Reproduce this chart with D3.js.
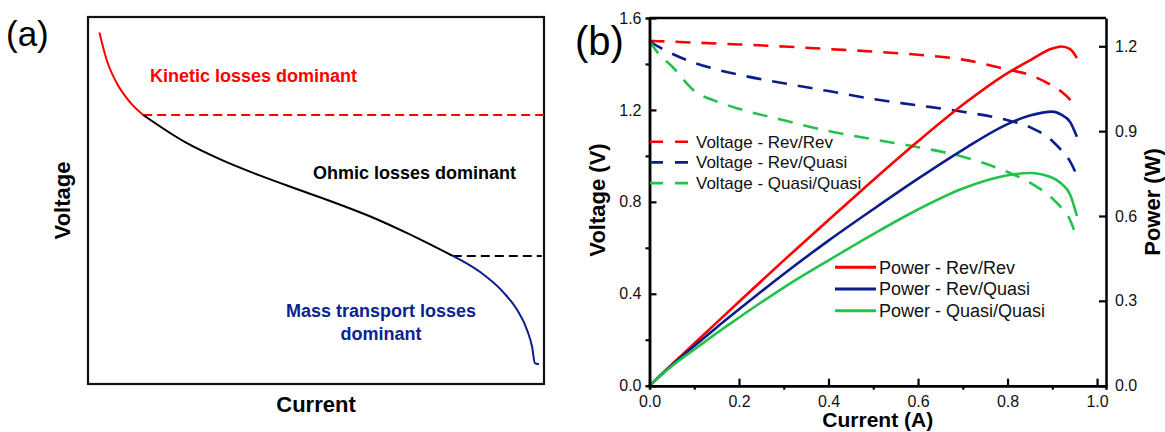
<!DOCTYPE html>
<html>
<head>
<meta charset="utf-8">
<script src="https://cdn.jsdelivr.net/npm/d3@7"></script>
<style>
  body { margin: 0; background: #fff; }
  text { font-family: "Liberation Sans", Arial, sans-serif; }
</style>
</head>
<body>
<div id="chart"></div>
<script>
// ---- panel (a): schematic polarization curve (arbitrary units 0..1)
var kineticI = [0.025, 0.041, 0.063, 0.092, 0.121];
var kineticV = [0.958, 0.883, 0.820, 0.768, 0.733];
var ohmicI = [0.121, 0.213, 0.294, 0.375, 0.456, 0.537, 0.618, 0.700, 0.800];
var ohmicV = [0.733, 0.659, 0.610, 0.569, 0.532, 0.496, 0.457, 0.411, 0.349];
var massI = [0.800, 0.860, 0.910, 0.941, 0.963, 0.974, 0.980, 0.989];
var massV = [0.349, 0.305, 0.251, 0.202, 0.147, 0.101, 0.057, 0.054];
var kineticLimit = [0.121, 1.0, 0.733];   // x0, x1, v
var massLimit = [0.800, 0.995, 0.349];

// ---- panel (b): measured curves
var current = [0, 0.02, 0.05, 0.1, 0.15, 0.2, 0.3, 0.4, 0.5, 0.6, 0.7, 0.8, 0.85, 0.9, 0.92, 0.94, 0.955];
var voltRevRev = [1.500, 1.499, 1.497, 1.493, 1.489, 1.485, 1.476, 1.465, 1.454, 1.440, 1.419, 1.376, 1.352, 1.305, 1.280, 1.244, 1.207];
var voltRevQuasi = [1.500, 1.475, 1.445, 1.405, 1.376, 1.353, 1.316, 1.282, 1.247, 1.220, 1.192, 1.155, 1.125, 1.065, 1.025, 0.975, 0.915];
var voltQuasiQuasi = [1.500, 1.445, 1.390, 1.283, 1.237, 1.205, 1.155, 1.108, 1.072, 1.038, 0.996, 0.930, 0.884, 0.815, 0.775, 0.720, 0.640];
var powRevRev = [0, 0.030, 0.075, 0.149, 0.223, 0.297, 0.443, 0.586, 0.727, 0.864, 0.993, 1.105, 1.150, 1.192, 1.199, 1.190, 1.158];
var powRevQuasi = [0, 0.0295, 0.072, 0.140, 0.206, 0.270, 0.395, 0.513, 0.624, 0.732, 0.834, 0.925, 0.955, 0.969, 0.958, 0.932, 0.880];
var powQuasiQuasi = [0, 0.029, 0.0695, 0.128, 0.186, 0.241, 0.347, 0.443, 0.536, 0.623, 0.697, 0.744, 0.752, 0.735, 0.715, 0.675, 0.600];

var xTicks = [0, 0.2, 0.4, 0.6, 0.8, 1.0];
var xMinor = [0.1, 0.3, 0.5, 0.7, 0.9];
var vTicks = [0, 0.4, 0.8, 1.2, 1.6];
var vMinor = [0.2, 0.6, 1.0, 1.4];
var pTicks = [0, 0.3, 0.6, 0.9, 1.2];

var voltNames = ["Voltage - Rev/Rev", "Voltage - Rev/Quasi", "Voltage - Quasi/Quasi"];
var powNames = ["Power - Rev/Rev", "Power - Rev/Quasi", "Power - Quasi/Quasi"];
var colors = ["#ff0000", "#0b1d8c", "#22c24c"];

var svg = d3.select("#chart").append("svg")
    .attr("width", 1165)
    .attr("height", 432);

// ================= panel (a)
var xA = d3.scaleLinear().domain([0, 1]).range([88, 544]);
var yA = d3.scaleLinear().domain([0, 1]).range([384, 17]);

svg.append("rect")
    .attr("x", xA(0)).attr("y", yA(1))
    .attr("width", xA(1) - xA(0)).attr("height", yA(0) - yA(1))
    .attr("fill", "none").attr("stroke", "#111").attr("stroke-width", 2.2);

var lineA = d3.line()
    .x(d => xA(d[0]))
    .y(d => yA(d[1]))
    .curve(d3.curveMonotoneX);

function pairs(xs, ys) { return xs.map((x, i) => [x, ys[i]]); }

svg.append("line")
    .attr("x1", xA(kineticLimit[0])).attr("x2", xA(kineticLimit[1]))
    .attr("y1", yA(kineticLimit[2])).attr("y2", yA(kineticLimit[2]))
    .attr("stroke", "#ff0000").attr("stroke-width", 2).attr("stroke-dasharray", "9,5");
svg.append("line")
    .attr("x1", xA(massLimit[0])).attr("x2", xA(massLimit[1]))
    .attr("y1", yA(massLimit[2])).attr("y2", yA(massLimit[2]))
    .attr("stroke", "#000").attr("stroke-width", 2).attr("stroke-dasharray", "9,5");

svg.append("path").datum(pairs(kineticI, kineticV))
    .attr("d", lineA).attr("fill", "none").attr("stroke", "#ff0000").attr("stroke-width", 2);
svg.append("path").datum(pairs(ohmicI, ohmicV))
    .attr("d", lineA).attr("fill", "none").attr("stroke", "#000").attr("stroke-width", 2);
svg.append("path").datum(pairs(massI, massV))
    .attr("d", lineA).attr("fill", "none").attr("stroke", "#0b1d8c").attr("stroke-width", 2);

svg.append("text").attr("x", 150).attr("y", 82)
    .attr("font-size", 18).attr("font-weight", "bold").attr("fill", "#ff0000")
    .text("Kinetic losses dominant");
svg.append("text").attr("x", 313).attr("y", 179)
    .attr("font-size", 18).attr("font-weight", "bold").attr("fill", "#000")
    .text("Ohmic losses dominant");
svg.append("text").attr("x", 381).attr("y", 317).attr("text-anchor", "middle")
    .attr("font-size", 18).attr("font-weight", "bold").attr("fill", "#0b2390")
    .text("Mass transport losses");
svg.append("text").attr("x", 381).attr("y", 340).attr("text-anchor", "middle")
    .attr("font-size", 18).attr("font-weight", "bold").attr("fill", "#0b2390")
    .text("dominant");

svg.append("text")
    .attr("transform", `translate(70, ${(yA(0) + yA(1)) / 2}) rotate(-90)`)
    .attr("text-anchor", "middle").attr("font-size", 22).attr("font-weight", "bold")
    .text("Voltage");
svg.append("text").attr("x", (xA(0) + xA(1)) / 2).attr("y", 412)
    .attr("text-anchor", "middle").attr("font-size", 22).attr("font-weight", "bold")
    .text("Current");

svg.append("text").attr("x", 6).attr("y", 46).attr("font-size", 35).text("(a)");

// ================= panel (b)
var x = d3.scaleLinear().domain([0, 1.02]).range([649.5, 1106]);
var yV = d3.scaleLinear().domain([0, 1.6]).range([385.7, 18]);
var yP = d3.scaleLinear().domain([0, 1.3]).range([385.7, 18]);

var lineV = d3.line().x(d => x(d[0])).y(d => yV(d[1])).curve(d3.curveMonotoneX);
var lineP = d3.line().x(d => x(d[0])).y(d => yP(d[1])).curve(d3.curveMonotoneX);

var volts = [voltRevRev, voltRevQuasi, voltQuasiQuasi];
var pows = [powRevRev, powRevQuasi, powQuasiQuasi];

volts.forEach(function(v, i) {
    svg.append("path").datum(pairs(current, v))
        .attr("d", lineV).attr("fill", "none")
        .attr("stroke", colors[i]).attr("stroke-width", 2.6)
        .attr("stroke-dasharray", "15,11");
});
pows.forEach(function(p, i) {
    svg.append("path").datum(pairs(current, p))
        .attr("d", lineP).attr("fill", "none")
        .attr("stroke", colors[i]).attr("stroke-width", 2.6);
});

var fmt = d3.format(".1f");

svg.append("g").attr("transform", `translate(0, ${yV(0)})`)
    .call(d3.axisBottom(x).tickValues(xTicks).tickFormat(fmt)
        .tickSizeInner(-7).tickSizeOuter(0).tickPadding(10));
svg.append("g").attr("transform", `translate(0, ${yV(0)})`)
    .call(d3.axisBottom(x).tickValues(xMinor).tickFormat("").tickSize(4));

svg.append("g").attr("transform", `translate(${x(0)}, 0)`)
    .call(d3.axisLeft(yV).tickValues(vTicks).tickFormat(fmt)
        .tickSizeInner(-7).tickSizeOuter(0).tickPadding(8));
svg.append("g").attr("transform", `translate(${x(0)}, 0)`)
    .call(d3.axisLeft(yV).tickValues(vMinor).tickFormat("").tickSize(4));

svg.append("g").attr("transform", `translate(${x(1.02)}, 0)`)
    .call(d3.axisRight(yP).tickValues(pTicks).tickFormat(fmt)
        .tickSizeInner(-7).tickSizeOuter(0).tickPadding(9));

svg.append("line")
    .attr("x1", x(0)).attr("x2", x(1.02))
    .attr("y1", yV(1.6)).attr("y2", yV(1.6))
    .attr("stroke", "#000").attr("stroke-width", 2.5);

svg.selectAll(".domain").attr("stroke", "#000").attr("stroke-width", 2.5);
svg.selectAll(".tick line").attr("stroke", "#000").attr("stroke-width", 2.2);
svg.selectAll(".tick text")
    .attr("font-family", "'Liberation Sans', Arial, sans-serif")
    .attr("font-size", 16).attr("fill", "#111");

svg.append("text").attr("x", (x(0) + x(1.02)) / 2).attr("y", 427)
    .attr("text-anchor", "middle").attr("font-size", 21).attr("font-weight", "bold")
    .text("Current (A)");
svg.append("text")
    .attr("transform", `translate(605, 200) rotate(-90)`)
    .attr("text-anchor", "middle").attr("font-size", 22).attr("font-weight", "bold")
    .text("Voltage (V)");
svg.append("text")
    .attr("transform", `translate(1160, 202) rotate(-90)`)
    .attr("text-anchor", "middle").attr("font-size", 22).attr("font-weight", "bold")
    .text("Power (W)");

svg.append("text").attr("x", 575).attr("y", 55).attr("font-size", 40).text("(b)");

// legends
voltNames.forEach(function(name, i) {
    var ly = 141.7 + i * 20.7;
    svg.append("line").attr("x1", 650).attr("x2", 688).attr("y1", ly).attr("y2", ly)
        .attr("stroke", colors[i]).attr("stroke-width", 2.6).attr("stroke-dasharray", "13,12");
    svg.append("text").attr("x", 696).attr("y", ly).attr("dy", "0.35em")
        .attr("font-size", 17).attr("fill", "#111").text(name);
});
powNames.forEach(function(name, i) {
    var ly = 267.3 + i * 21.7;
    svg.append("line").attr("x1", 835).attr("x2", 876).attr("y1", ly).attr("y2", ly)
        .attr("stroke", colors[i]).attr("stroke-width", 3);
    svg.append("text").attr("x", 879).attr("y", ly).attr("dy", "0.35em")
        .attr("font-size", 18).attr("fill", "#111").text(name);
});
</script>
</body>
</html>
